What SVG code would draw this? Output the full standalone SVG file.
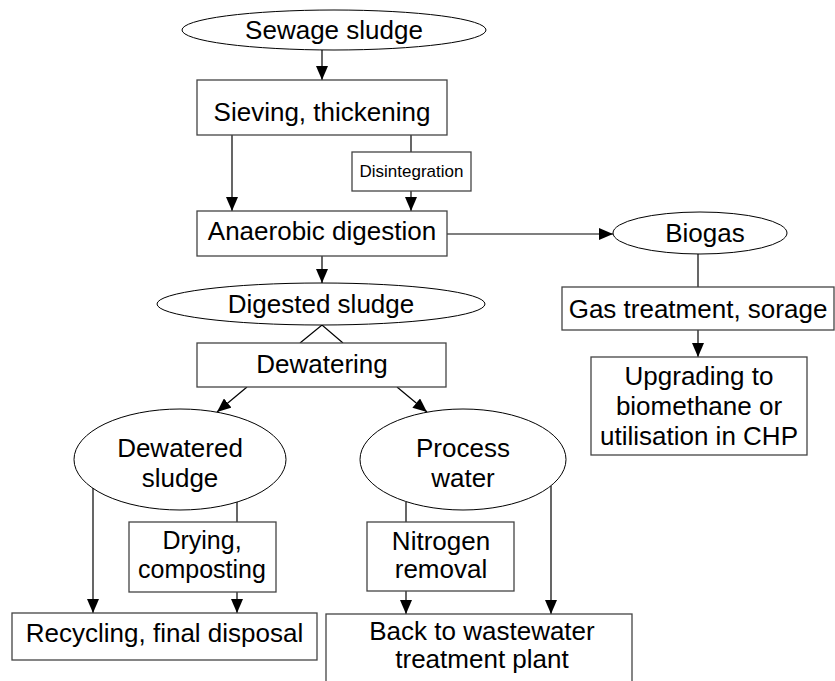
<svg xmlns="http://www.w3.org/2000/svg" width="835" height="681" viewBox="0 0 835 681">
<style>
.box{fill:#fff;stroke:#444;stroke-width:1.3}
.ell{fill:#fff;stroke:#000;stroke-width:1}
.t{font-family:"Liberation Sans",Arial,sans-serif;font-size:26px;fill:#000;text-anchor:middle}
.s{font-size:17px}
.m{font-size:25px}
.c{stroke:#000;stroke-width:1.2;fill:none}
</style>
<defs>
<marker id="ah" markerWidth="14" markerHeight="12" refX="14" refY="6" orient="auto" markerUnits="userSpaceOnUse">
<path d="M0,0 L14,6 L0,12 Z" fill="#000"/>
</marker>
</defs>
<rect width="835" height="681" fill="#fff"/>
<g id="connectors">
<line class="c" x1="322" y1="50" x2="322" y2="80" marker-end="url(#ah)"/>
<line class="c" x1="232" y1="135" x2="232" y2="211" marker-end="url(#ah)"/>
<line class="c" x1="411" y1="135" x2="411" y2="152"/>
<line class="c" x1="411" y1="191" x2="411" y2="211" marker-end="url(#ah)"/>
<line class="c" x1="447" y1="234" x2="613" y2="234" marker-end="url(#ah)"/>
<line class="c" x1="698" y1="254" x2="698" y2="287"/>
<line class="c" x1="698" y1="330" x2="698" y2="357" marker-end="url(#ah)"/>
<line class="c" x1="322" y1="256" x2="322" y2="283" marker-end="url(#ah)"/>
<polyline class="c" points="300,343 322,325 343,343"/>
<line class="c" x1="247" y1="387" x2="217" y2="412" marker-end="url(#ah)"/>
<line class="c" x1="397" y1="387" x2="427" y2="412" marker-end="url(#ah)"/>
<line class="c" x1="93" y1="488" x2="93" y2="613" marker-end="url(#ah)"/>
<line class="c" x1="237" y1="502" x2="237" y2="522"/>
<line class="c" x1="237" y1="592" x2="237" y2="613" marker-end="url(#ah)"/>
<line class="c" x1="406" y1="502" x2="406" y2="522"/>
<line class="c" x1="406" y1="591" x2="406" y2="614" marker-end="url(#ah)"/>
<line class="c" x1="551" y1="486" x2="551" y2="614" marker-end="url(#ah)"/>
</g>
<g id="sewage-sludge">
<ellipse class="ell" cx="334" cy="30" rx="152" ry="20"/>
<text class="t" x="334" y="39">Sewage sludge</text>
</g>
<g id="sieving">
<rect class="box" x="197" y="80" width="250" height="55"/>
<text class="t" x="322" y="121">Sieving, thickening</text>
</g>
<g id="disintegration">
<rect class="box" x="352" y="152" width="119" height="39"/>
<text class="t s" x="411.5" y="177">Disintegration</text>
</g>
<g id="anaerobic">
<rect class="box" x="197" y="211" width="250" height="45"/>
<text class="t" x="322" y="240">Anaerobic digestion</text>
</g>
<g id="biogas">
<ellipse class="ell" cx="700" cy="233" rx="87" ry="21"/>
<text class="t" x="705" y="242">Biogas</text>
</g>
<g id="gas-treatment">
<rect class="box" x="562" y="287" width="272" height="43"/>
<text class="t" x="698" y="318">Gas treatment, sorage</text>
</g>
<g id="upgrading">
<rect class="box" x="591" y="357" width="216" height="98"/>
<text class="t" x="699" y="385">Upgrading to</text>
<text class="t" x="699" y="415">biomethane or</text>
<text class="t" x="699" y="445">utilisation in CHP</text>
</g>
<g id="digested-sludge">
<ellipse class="ell" cx="321" cy="304" rx="164" ry="21"/>
<text class="t" x="321" y="313">Digested sludge</text>
</g>
<g id="dewatering">
<rect class="box" x="197" y="343" width="249" height="44"/>
<text class="t" x="322" y="373">Dewatering</text>
</g>
<g id="dewatered-sludge">
<ellipse class="ell" cx="180" cy="459.5" rx="106" ry="50.5"/>
<text class="t" x="180" y="457">Dewatered</text>
<text class="t" x="180" y="487">sludge</text>
</g>
<g id="process-water">
<ellipse class="ell" cx="463" cy="459.5" rx="103" ry="50.5"/>
<text class="t" x="463" y="457">Process</text>
<text class="t" x="463" y="487">water</text>
</g>
<g id="drying">
<rect class="box" x="129" y="522" width="147" height="70"/>
<text class="t m" x="202" y="549">Drying,</text>
<text class="t m" x="202" y="578">composting</text>
</g>
<g id="nitrogen">
<rect class="box" x="367" y="522" width="147" height="69"/>
<text class="t" x="441" y="550">Nitrogen</text>
<text class="t" x="441" y="578">removal</text>
</g>
<g id="recycling">
<rect class="box" x="12" y="613" width="305" height="47"/>
<text class="t" x="164.5" y="642">Recycling, final disposal</text>
</g>
<g id="back-to-wwtp">
<rect class="box" x="326" y="614" width="306" height="80"/>
<text class="t" x="482" y="640">Back to wastewater</text>
<text class="t" x="482" y="668">treatment plant</text>
</g>
</svg>
